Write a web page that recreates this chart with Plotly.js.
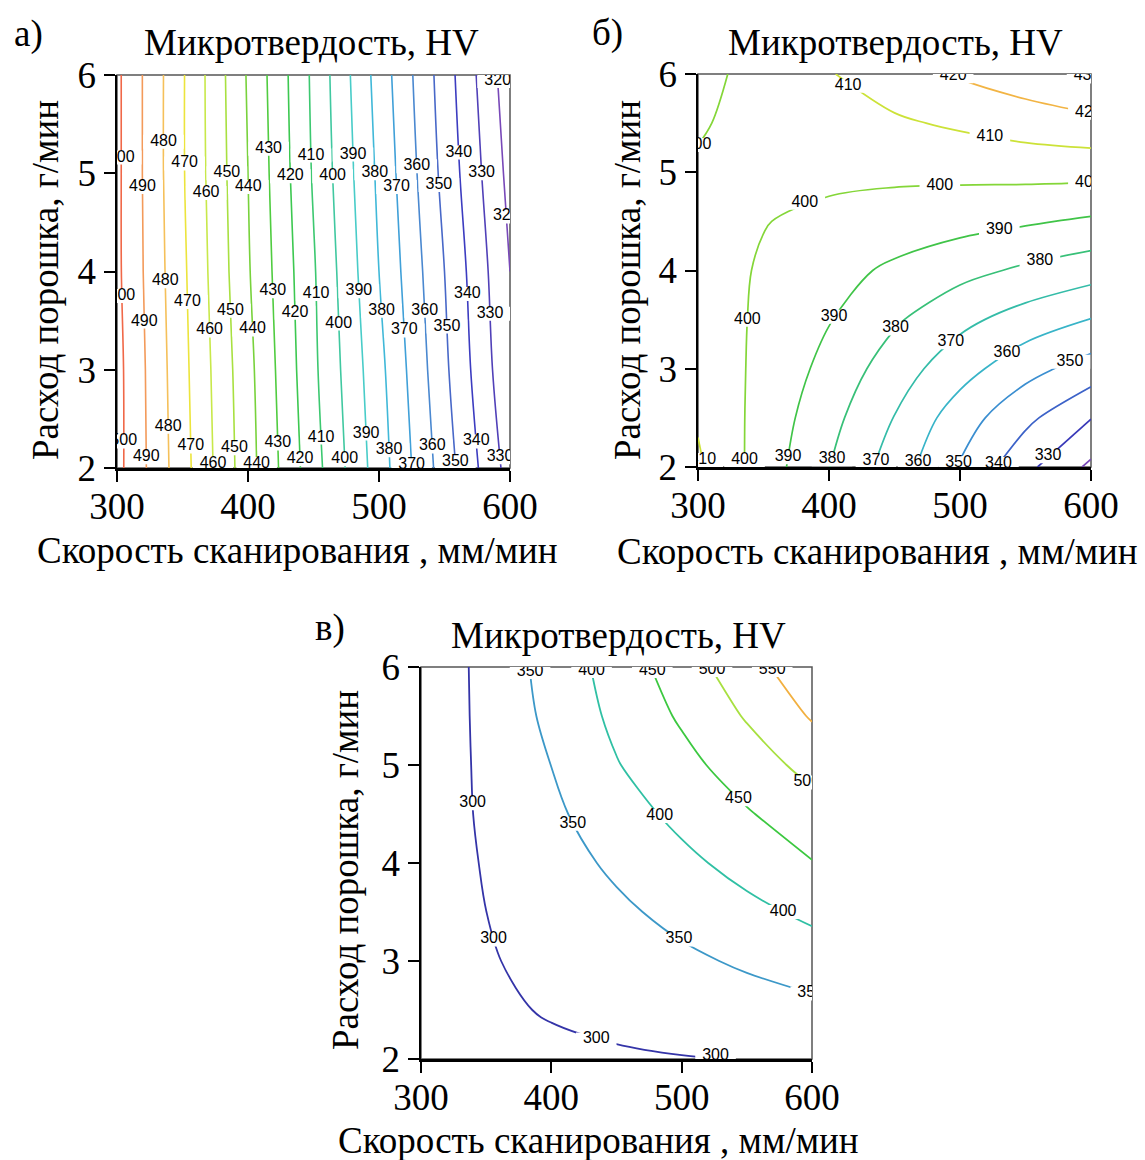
<!DOCTYPE html>
<html>
<head>
<meta charset="utf-8">
<script src="https://cdn.plot.ly/plotly-3.0.1.min.js"></script>
<style>
  html, body { margin: 0; padding: 0; background: #ffffff; }
  #chart { width: 1145px; height: 1160px; }
</style>
</head>
<body>
<div id="chart"></div>
<script>
// ---------------- data ----------------
const scanSpeed = [300, 350, 400, 450, 500, 550, 600];          // мм/мин

// panel а)
const powderA = [2, 3, 4, 5, 6];                                 // г/мин
const hvA = [
  [503, 474, 444, 414, 385, 355, 326],
  [503, 473, 443, 412, 383, 352, 322],
  [502, 472, 441, 411, 380, 350, 320],
  [502, 471, 440, 409, 378, 347, 317],
  [502, 471, 439, 408, 376, 345, 314]
];

// panel б)
const powderB = [2, 2.5, 3, 3.5, 4, 4.5, 5, 5.5, 6];
const hvB = [
  [411.5, 395.3, 380.2, 365.3, 349.2, 332.7, 318.0],
  [409.0, 396.4, 383.2, 369.7, 354.7, 342.5, 330.3],
  [407.0, 397.4, 387.0, 374.9, 364.0, 353.4, 345.6],
  [405.5, 398.2, 390.5, 381.3, 372.6, 365.7, 359.7],
  [404.0, 399.1, 393.6, 388.2, 383.1, 378.3, 374.2],
  [403.0, 400.3, 397.9, 395.7, 393.5, 391.2, 388.5],
  [401.0, 402.0, 402.0, 401.9, 402.3, 402.9, 403.1],
  [399.2, 403.0, 405.5, 408.6, 411.5, 414.7, 417.2],
  [397.0, 403.6, 409.4, 415.3, 421.0, 425.5, 431.0]
];

// panel в)
const powderC = [2, 2.5, 3, 3.5, 4, 4.5, 5, 5.5, 6];
const hvC = [
  [286.0, 291.0, 292.5, 295.0, 298.3, 300.8, 304.0],
  [284.5, 293.7, 302.6, 311.4, 320.3, 329.1, 338.0],
  [283.0, 296.6, 311.4, 326.1, 340.9, 356.7, 374.3],
  [280.0, 299.9, 320.5, 341.1, 363.3, 386.7, 410.6],
  [276.0, 303.1, 330.5, 358.4, 387.7, 417.9, 448.0],
  [272.8, 306.8, 340.5, 377.2, 413.0, 445.7, 479.7],
  [268.6, 309.4, 350.4, 397.4, 434.8, 475.0, 516.0],
  [264.0, 312.2, 361.3, 411.2, 456.4, 504.3, 554.5],
  [260.0, 314.6, 367.9, 421.0, 476.0, 530.4, 585.0]
];

const xTicks = [300, 400, 500, 600];
const yTicks = [2, 3, 4, 5, 6];
const plotTitle = 'Микротвердость, HV';
const xTitle = 'Скорость сканирования , мм/мин';
const yTitle = 'Расход порошка, г/мин';
const panelLabels = ['а)', 'б)', 'в)'];

// ---------------- contour-label placement (layout only) ----------------
// 'r' = label on a given powder value (row), 'c' = label on a given speed (column)
const labelsA = [
  ['r',500,5.16],['r',490,4.86],['r',480,5.32],['r',470,5.10],['r',460,4.80],['r',450,5.00],
  ['r',440,4.86],['r',430,5.25],['r',420,4.97],['r',410,5.18],['r',400,4.97],['r',390,5.19],
  ['r',380,5.00],['r',370,4.86],['r',360,5.07],['r',350,4.88],['r',340,5.21],['r',330,5.00],
  ['r',320,5.94],['r',320,4.56],
  ['r',500,3.75],['r',490,3.49],['r',480,3.90],['r',470,3.69],['r',460,3.40],['r',450,3.60],
  ['r',440,3.41],['r',430,3.80],['r',420,3.58],['r',410,3.77],['r',400,3.47],['r',390,3.80],
  ['r',380,3.60],['r',370,3.40],['r',360,3.60],['r',350,3.44],['r',340,3.77],['r',330,3.57],
  ['r',500,2.27],['r',490,2.11],['r',480,2.42],['r',470,2.22],['r',460,2.04],['r',450,2.20],
  ['r',440,2.04],['r',430,2.25],['r',420,2.09],['r',410,2.31],['r',400,2.09],['r',390,2.35],
  ['r',380,2.18],['r',370,2.03],['r',360,2.22],['r',350,2.06],['r',340,2.27],['r',330,2.11]
];
const labelsB = [
  ['c',410,414.6],['c',420,494.8],['c',430,597],['c',420,598],['c',410,522.8],['c',400,598],
  ['c',400,484.6],['c',400,381.5],['c',400,300],['c',390,530],['c',380,561],
  ['r',400,3.5],['r',390,3.53],['r',380,3.41],['r',370,3.27],['r',360,3.16],['r',350,3.07],
  ['r',410,2.07],['r',400,2.07],['r',390,2.10],['r',380,2.08],['r',370,2.06],['r',360,2.05],
  ['r',350,2.04],['r',340,2.03],['r',330,2.11],['r',320,2.10]
];
const labelsC = [
  ['r',350,5.95],['r',400,5.96],['r',450,5.96],['r',500,5.97],['r',550,5.97],
  ['r',300,4.61],['r',300,3.22],['r',300,2.20],['c',300,526],
  ['r',350,4.40],['r',350,3.22],['c',350,599],
  ['r',400,4.48],['r',400,3.50],['r',450,4.65],['c',500,596]
];

function lerp(a, b, t) { return a + (b - a) * t; }
function sampleAlong(arr, vals, q) {           // linear value of vals at q on axis arr
  for (let i = 0; i < arr.length - 1; i++) {
    if (q >= arr[i] && q <= arr[i + 1]) return lerp(vals[i], vals[i + 1], (q - arr[i]) / (arr[i + 1] - arr[i]));
  }
  return q < arr[0] ? vals[0] : vals[vals.length - 1];
}
function findCross(arr, vals, level) {
  for (let i = 0; i < arr.length - 1; i++) {
    const a = vals[i] - level, b = vals[i + 1] - level;
    if (a === 0) return arr[i];
    if (a * b < 0) return lerp(arr[i], arr[i + 1], (level - vals[i]) / (vals[i + 1] - vals[i]));
  }
  if (vals[arr.length - 1] === level) return arr[arr.length - 1];
  return null;
}
function placeLabels(xs, ys, z, specs) {
  const out = { x: [], y: [], t: [] };
  specs.forEach(s => {
    const kind = s[0], level = s[1], q = s[2];
    let px_, py_;
    if (kind === 'r') {
      const row = xs.map((_, j) => sampleAlong(ys, z.map(r => r[j]), q));
      px_ = findCross(xs, row, level); py_ = q;
    } else {
      const col = ys.map((_, i) => sampleAlong(xs, z[i], q));
      py_ = findCross(ys, col, level); px_ = q;
    }
    if (px_ !== null && py_ !== null) { out.x.push(px_); out.y.push(Math.max(py_, 2.03)); out.t.push(String(level)); }
  });
  return out;
}

// ---------------- styling ----------------
const W = 1145, H = 1160;
const px = v => v / W;
const py = v => 1 - v / H;
const serif = 'Liberation Serif, Times New Roman, serif';

const cscale = [
  [0.000, '#7848b8'], [0.056, '#5040b8'], [0.111, '#3c3cc0'], [0.167, '#4868c8'],
  [0.222, '#4a88d0'], [0.278, '#40a0d8'], [0.333, '#40b8d8'], [0.389, '#48ccc8'],
  [0.444, '#40c8a0'], [0.500, '#3cc870'], [0.556, '#3cc850'], [0.611, '#50cc40'],
  [0.667, '#78d23c'], [0.722, '#a8e040'], [0.778, '#c8e84a'], [0.833, '#ece43c'],
  [0.889, '#f5c05a'], [0.944, '#f39a5a'], [1.000, '#f06848']
];
const cscaleB = [
  [0.000, '#7848b8'], [0.091, '#3838b8'], [0.182, '#3c62c8'], [0.273, '#3a8ed0'],
  [0.364, '#38b4c8'], [0.455, '#34bca8'], [0.545, '#38c078'], [0.636, '#40c448'],
  [0.727, '#84d638'], [0.818, '#cce238'], [0.909, '#f2b444'], [1.000, '#f06040']
];
const cscaleC = [
  [0.0, '#3434a8'], [0.2, '#3c98c8'], [0.4, '#30c0a4'], [0.6, '#3cc840'],
  [0.8, '#a8e040'], [1.0, '#f2b040']
];

function contourTrace(x, y, z, xa, ya, start, end, size, cs, w) {
  return {
    type: 'contour', x: x, y: y, z: z, xaxis: xa, yaxis: ya,
    colorscale: cs, showscale: false, hoverinfo: 'skip',
    contours: { coloring: 'lines', start: start, end: end, size: size, showlabels: false },
    line: { width: w, smoothing: 1 }
  };
}
function labelTrace(lab, xa, ya) {
  return {
    type: 'scatter', mode: 'markers+text', x: lab.x, y: lab.y, text: lab.t,
    xaxis: xa, yaxis: ya, cliponaxis: true, hoverinfo: 'skip',
    textposition: 'middle center',
    textfont: { family: 'Liberation Sans, Arial, sans-serif', size: 16, color: '#000' },
    marker: { symbol: 'line-ew', size: 29, color: '#ffffff', line: { color: '#ffffff', width: 14 } }
  };
}

const data = [
  contourTrace(scanSpeed, powderA, hvA, 'x', 'y', 320, 500, 10, cscale, 1.6),
  contourTrace(scanSpeed, powderB, hvB, 'x2', 'y2', 320, 430, 10, cscaleB, 1.7),
  contourTrace(scanSpeed, powderC, hvC, 'x3', 'y3', 300, 550, 50, cscaleC, 1.8),
  labelTrace(placeLabels(scanSpeed, powderA, hvA, labelsA), 'x', 'y'),
  labelTrace(placeLabels(scanSpeed, powderB, hvB, labelsB), 'x2', 'y2'),
  labelTrace(placeLabels(scanSpeed, powderC, hvC, labelsC), 'x3', 'y3')
];

function xAxis(l, r, anchor) {
  return {
    domain: [px(l), px(r)], anchor: anchor, range: [300, 600],
    tickmode: 'array', tickvals: xTicks, ticktext: xTicks.map(String),
    ticks: 'outside', ticklen: 11, tickwidth: 2, tickcolor: '#000',
    ticklabelstandoff: -7,
    showline: true, linewidth: 2.5, linecolor: '#000',
    showgrid: false, zeroline: false, fixedrange: true,
    tickfont: { family: serif, size: 37, color: '#000' }
  };
}
function yAxis(t, b, anchor) {
  return {
    domain: [py(b), py(t)], anchor: anchor, range: [2, 6],
    tickmode: 'array', tickvals: yTicks, ticktext: yTicks.map(String),
    ticks: 'outside', ticklen: 11, tickwidth: 2, tickcolor: '#000',
    showline: true, linewidth: 2.5, linecolor: '#000',
    showgrid: false, zeroline: false, fixedrange: true,
    tickfont: { family: serif, size: 37, color: '#000' }
  };
}
function boxShape(xr, yr) {
  return {
    type: 'rect', xref: xr + ' domain', yref: yr + ' domain',
    x0: 0, x1: 1, y0: 0, y1: 1, layer: 'below',
    line: { color: '#555555', width: 1.5 }
  };
}
function ann(text, x, y, opts) {
  return Object.assign({
    text: text, xref: 'paper', yref: 'paper', x: px(x), y: py(y),
    xanchor: 'center', yanchor: 'middle', showarrow: false,
    font: { family: serif, size: 37, color: '#000' }
  }, opts || {});
}

const annotations = [
  ann(panelLabels[0], 28, 34),
  ann(panelLabels[1], 607, 33),
  ann(panelLabels[2], 330, 628),
  ann(plotTitle, 311, 43),
  ann(plotTitle, 895, 43),
  ann(plotTitle, 618, 635),
  ann(xTitle, 297, 550),
  ann(xTitle, 877, 551),
  ann(xTitle, 598, 1140),
  ann(yTitle, 45, 280, { textangle: -90 }),
  ann(yTitle, 627, 280, { textangle: -90 }),
  ann(yTitle, 345, 870, { textangle: -90 })
];

const layout = {
  width: W, height: H,
  margin: { l: 0, r: 0, t: 0, b: 0, pad: 0 },
  paper_bgcolor: '#ffffff', plot_bgcolor: '#ffffff',
  showlegend: false,
  font: { family: serif, color: '#000' },
  xaxis: xAxis(117, 510, 'y'),
  yaxis: yAxis(75, 468, 'x'),
  xaxis2: xAxis(698, 1091, 'y2'),
  yaxis2: yAxis(74, 467, 'x2'),
  xaxis3: xAxis(421, 812, 'y3'),
  yaxis3: yAxis(667, 1059, 'x3'),
  shapes: [boxShape('x', 'y'), boxShape('x2', 'y2'), boxShape('x3', 'y3')],
  annotations: annotations
};

Plotly.newPlot('chart', data, layout, { staticPlot: true, displayModeBar: false });
</script>
</body>
</html>
